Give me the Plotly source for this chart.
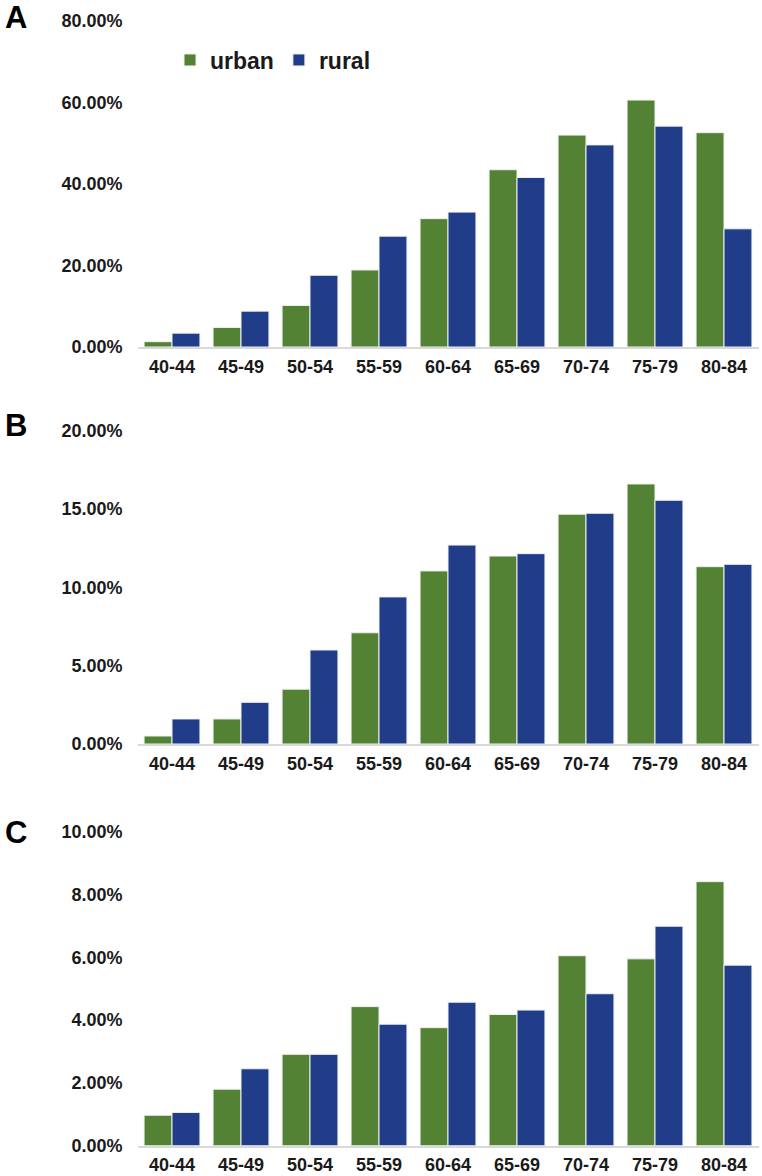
import plotly.graph_objects as go

categories = ["40-44", "45-49", "50-54", "55-59", "60-64", "65-69", "70-74", "75-79", "80-84"]

a_urban = [1.3, 4.8, 10.2, 18.9, 31.5, 43.5, 52.0, 60.6, 52.6]
a_rural = [3.4, 8.8, 17.6, 27.2, 33.1, 41.6, 49.6, 54.2, 29.0]

b_urban = [0.51, 1.6, 3.5, 7.1, 11.05, 12.0, 14.67, 16.6, 11.32]
b_rural = [1.6, 2.66, 6.0, 9.39, 12.7, 12.15, 14.73, 15.56, 11.47]

c_urban = [0.97, 1.8, 2.91, 4.43, 3.76, 4.18, 6.05, 5.95, 8.41]
c_rural = [1.06, 2.45, 2.91, 3.87, 4.57, 4.32, 4.84, 6.99, 5.75]

panel_labels = ["A", "B", "C"]
y_ticks = [[0, 20, 40, 60, 80], [0, 5, 10, 15, 20], [0, 2, 4, 6, 8, 10]]

GREEN = "#548235"
BLUE = "#213D89"
FONT = "Liberation Sans, Arial, sans-serif"

W, H = 762, 1176
fig = go.Figure()

panels = [(a_urban, a_rural), (b_urban, b_rural), (c_urban, c_rural)]
# pixel positions (top, bottom) of each plot area
pix = [(21, 347), (430.7, 744), (831.7, 1145.7)]
label_y = [18, 425, 832]
xdom = [137.5 / W, 758.5 / W]

for i, (u, r) in enumerate(panels):
    xa = "x" if i == 0 else f"x{i+1}"
    ya = "y" if i == 0 else f"y{i+1}"
    fig.add_trace(go.Bar(x=categories, y=u, name="urban", marker=dict(color=GREEN, line=dict(color="#EEF2F0", width=1)),
                         xaxis=xa, yaxis=ya, showlegend=(i == 0)))
    fig.add_trace(go.Bar(x=categories, y=r, name="rural", marker=dict(color=BLUE, line=dict(color="#EEF2F0", width=1)),
                         xaxis=xa, yaxis=ya, showlegend=(i == 0)))
    top, bot = pix[i]
    ydom = [1 - bot / H, 1 - top / H]
    xkey = "xaxis" if i == 0 else f"xaxis{i+1}"
    ykey = "yaxis" if i == 0 else f"yaxis{i+1}"
    ticks = y_ticks[i]
    fig.update_layout(**{
        xkey: dict(domain=xdom, anchor=ya, type="category", range=[-0.5, 8.5],
                   showline=True, linecolor="#D9D9D9", linewidth=2, ticks="",
                   showgrid=False, ticklabelstandoff=2, automargin=False,
                   tickfont=dict(family=FONT, size=18, color="#1a1a1a", weight="bold")),
        ykey: dict(domain=ydom, anchor=xa, range=[0, ticks[-1]], tickvals=ticks,
                   ticktext=[f"{t:.2f}%" for t in ticks],
                   showline=False, showgrid=False, zeroline=False, ticks="",
                   ticklabelstandoff=14, automargin=False,
                   tickfont=dict(family=FONT, size=18, color="#1a1a1a", weight="bold")),
    })
    fig.add_annotation(text=panel_labels[i], xref="paper", yref="paper",
                       x=16 / W, y=1 - label_y[i] / H, xanchor="center", yanchor="middle",
                       showarrow=False, font=dict(family=FONT, size=31, color="black", weight="bold"))

fig.update_layout(
    width=W, height=H,
    margin=dict(l=0, r=0, t=0, b=0, autoexpand=False),
    paper_bgcolor="white", plot_bgcolor="white",
    barmode="group", bargap=0.19, bargroupgap=0.0,
    legend=dict(orientation="h", x=170 / W, y=1 - 60 / H, xanchor="left", yanchor="middle",
                font=dict(family=FONT, size=23, color="#1a1a1a", weight="bold"),
                itemwidth=30, tracegroupgap=0, bgcolor="rgba(0,0,0,0)"),
)

fig.write_html("out.html")
